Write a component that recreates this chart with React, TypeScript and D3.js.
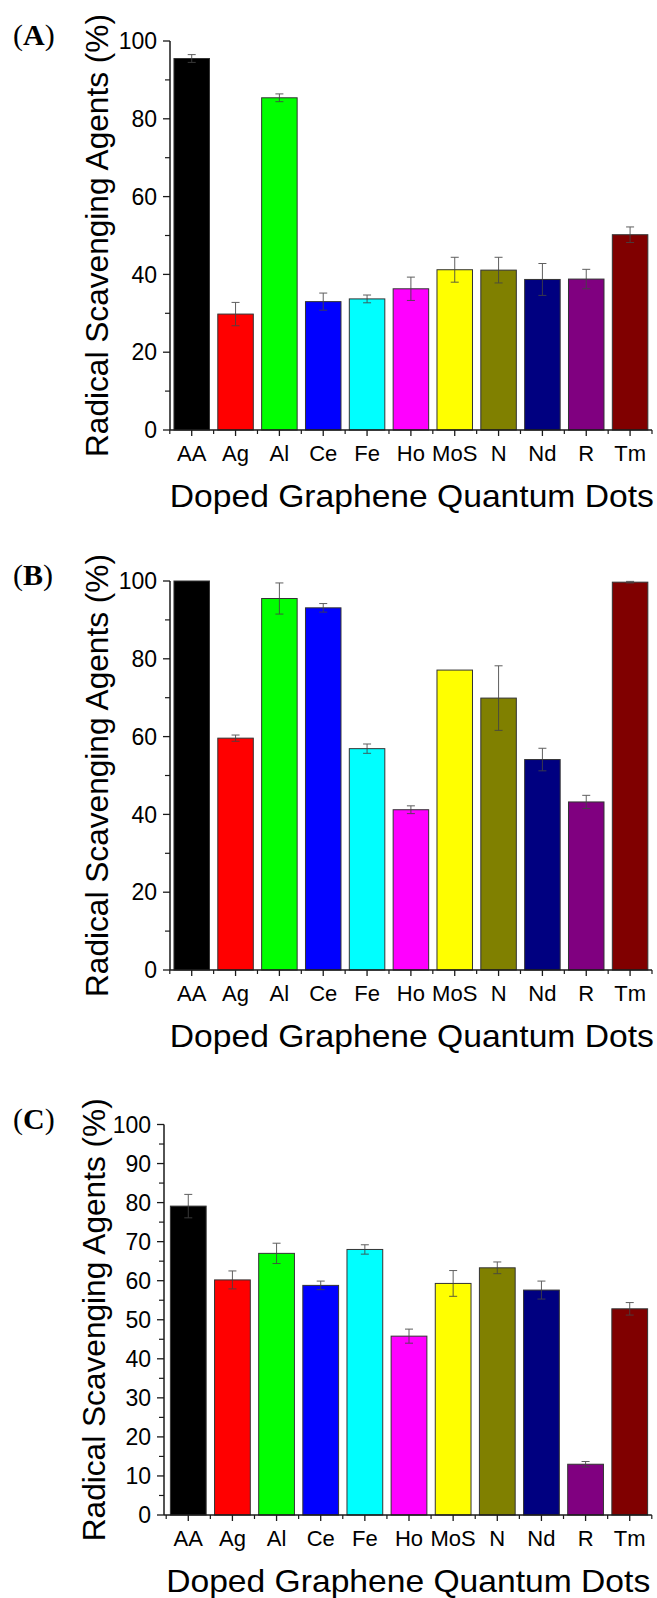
import * as d3 from 'd3';
import React from 'react';

// categories and bar colours
const categories = ['AA', 'Ag', 'Al', 'Ce', 'Fe', 'Ho', 'MoS', 'N', 'Nd', 'R', 'Tm'];
const barColors = ['#000000', '#ff0000', '#00ff00', '#0000ff', '#00ffff', '#ff00ff', '#ffff00', '#808000', '#000080', '#800080', '#800000'];

// panel A
const valuesA = [95.5, 29.8, 85.4, 33.0, 33.7, 36.3, 41.2, 41.1, 38.7, 38.8, 50.2];
const errorsA = [1.0, 3.0, 1.0, 2.2, 1.0, 3.0, 3.2, 3.3, 4.1, 2.5, 2.0];
// panel B
const valuesB = [100, 59.6, 95.5, 93.1, 56.9, 41.2, 77.1, 69.9, 54.1, 43.2, 99.7];
const errorsB = [0, 0.8, 4.0, 1.1, 1.2, 1.0, 0, 8.3, 2.9, 1.7, 0.2];
// panel C
const valuesC = [79.1, 60.2, 67.0, 58.8, 68.0, 45.8, 59.3, 63.3, 57.6, 13.0, 52.8];
const errorsC = [3.0, 2.3, 2.6, 1.1, 1.2, 1.8, 3.3, 1.5, 2.3, 0.7, 1.6];

const majorTicksAB = [0, 20, 40, 60, 80, 100];
const minorTicksAB = [10, 30, 50, 70, 90];
const majorTicksC = [0, 10, 20, 30, 40, 50, 60, 70, 80, 90, 100];
const minorTicksC = [5, 15, 25, 35, 45, 55, 65, 75, 85, 95];

const yTitle = 'Radical Scavenging Agents (%)';
const xTitle = 'Doped Graphene Quantum Dots';

const SANS = 'Arial, "Liberation Sans", sans-serif';
const SERIF = '"Times New Roman", "Liberation Serif", serif';
const INK = '#1a1a1a';

function Panel(props) {
  const { tag, values, errors, major, minor, top, bottom, axisX, x0, x1, labelX } = props;

  const x = d3.scaleBand().domain(categories).range([x0, x1]).paddingInner(0.19).paddingOuter(0.095);
  const y = d3.scaleLinear().domain([0, 100]).range([bottom, top]);
  const bw = x.bandwidth();
  const step = x.step();

  return (
    <g>
      <text x={13} y={top + 4} fontFamily={SERIF} fontSize={30} fill="#000">
        (<tspan fontWeight="bold">{tag}</tspan>)
      </text>

      {/* bars */}
      {categories.map((c, i) => (
        <rect key={c} x={x(c)} y={y(values[i])} width={bw} height={y(0) - y(values[i])}
          fill={barColors[i]} stroke="#333" strokeWidth={1} />
      ))}

      {/* error bars */}
      {categories.map((c, i) => {
        if (!errors[i]) return null;
        const cx = x(c) + bw / 2;
        const hi = y(values[i] + errors[i]);
        const lo = y(values[i] - errors[i]);
        return (
          <g key={'e' + c} stroke="#444" strokeWidth={1} opacity={0.85}>
            <line x1={cx} x2={cx} y1={hi} y2={lo} />
            <line x1={cx - 4} x2={cx + 4} y1={hi} y2={hi} />
            <line x1={cx - 4} x2={cx + 4} y1={lo} y2={lo} />
          </g>
        );
      })}

      {/* y axis */}
      <line x1={axisX} x2={axisX} y1={top} y2={bottom} stroke={INK} strokeWidth={1.5} />
      {major.map(t => (
        <g key={'ym' + t}>
          <line x1={axisX - 7} x2={axisX} y1={y(t)} y2={y(t)} stroke={INK} strokeWidth={1.3} />
          <text x={axisX - 13} y={y(t)} dy="0.36em" textAnchor="end" fontFamily={SANS} fontSize={23} fill="#000">{t}</text>
        </g>
      ))}
      {minor.map(t => (
        <line key={'yn' + t} x1={axisX - 5} x2={axisX} y1={y(t)} y2={y(t)} stroke={INK} strokeWidth={1.2} />
      ))}

      {/* x axis */}
      <line x1={axisX} x2={x1} y1={bottom} y2={bottom} stroke={INK} strokeWidth={1.5} />
      {categories.map(c => (
        <g key={'x' + c}>
          <line x1={x(c) + bw / 2} x2={x(c) + bw / 2} y1={bottom} y2={bottom + 6} stroke={INK} strokeWidth={1.3} />
          <text x={x(c) + bw / 2} y={bottom + 31} textAnchor="middle" fontFamily={SANS} fontSize={22} fill="#000">{c}</text>
        </g>
      ))}
      {d3.range(categories.length + 1).map(k => (
        <line key={'xn' + k} x1={x0 + k * step} x2={x0 + k * step} y1={bottom} y2={bottom + 4} stroke={INK} strokeWidth={1.2} />
      ))}

      {/* titles */}
      <text x={x0} y={bottom + 77} fontFamily={SANS} fontSize={32} fill="#000"
        textLength={484} lengthAdjust="spacingAndGlyphs">{xTitle}</text>
      <text transform={`translate(${labelX},${(top + bottom) / 2}) rotate(-90)`} textAnchor="middle"
        fontFamily={SANS} fontSize={31} fill="#000" textLength={443} lengthAdjust="spacingAndGlyphs">{yTitle}</text>
    </g>
  );
}

export default function App() {
  return (
    <div style={{ position: 'absolute', left: 0, top: 0 }}>
      <svg width={657} height={1598} style={{ display: 'block', background: '#fff' }}>
        <Panel tag="A" values={valuesA} errors={errorsA} major={majorTicksAB} minor={minorTicksAB}
          top={41} bottom={430} axisX={170} x0={169.8} x1={652} labelX={108} />
        <Panel tag="B" values={valuesB} errors={errorsB} major={majorTicksAB} minor={minorTicksAB}
          top={581} bottom={970} axisX={170} x0={169.8} x1={652} labelX={108} />
        <Panel tag="C" values={valuesC} errors={errorsC} major={majorTicksC} minor={minorTicksC}
          top={1124.5} bottom={1515} axisX={164} x0={166.2} x1={651.8} labelX={105} />
      </svg>
    </div>
  );
}
